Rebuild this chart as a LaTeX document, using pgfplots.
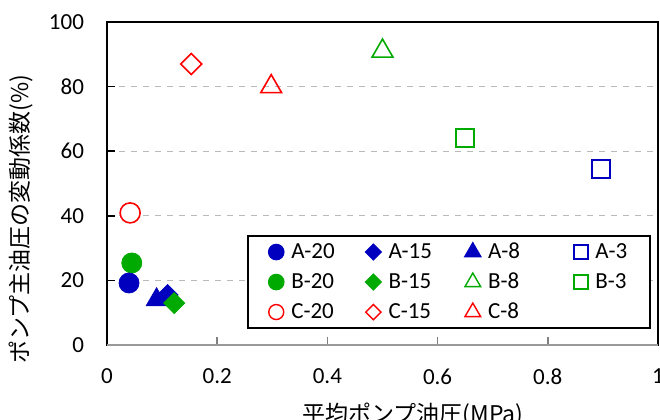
\documentclass[border=0pt]{standalone}
\usepackage{fontspec}
\setmainfont{Carlito}
\newfontfamily\jp{Noto Sans CJK JP}
\usepackage{pgfplots}
\pgfplotsset{compat=1.18}
\definecolor{cblue}{RGB}{0,0,190}
\definecolor{cgreen}{RGB}{0,170,0}
\definecolor{cred}{RGB}{255,0,0}
\begin{document}
\begin{tikzpicture}
\begin{axis}[
  at={(0pt,0pt)}, anchor=origin,
  scale only axis, width=275.5pt, height=161.5pt,
  xmin=0, xmax=1, ymin=0, ymax=100,
  xtick={0,0.2,0.4,0.6,0.8,1}, ytick={0,20,40,60,80,100},
  /pgf/number format/assume math mode=true,
  tick label style={font=\fontsize{11.5}{13.8}\selectfont},
  xticklabel style={yshift=-8.5pt},
  yticklabel style={xshift=-8pt},
  tick align=inside, xtick pos=bottom, ytick pos=left,
  major tick length=4pt,
  xtick style={gray, line width=0.8pt},
  ytick style={black, line width=0.8pt},
  axis line style={black, line width=1.3pt},
  ymajorgrids, grid style={dashed, gray!55, line width=0.6pt},
  xlabel={\jp 平均ポンプ油圧(MPa)},
  ylabel={\jp ポンプ主油圧の変動係数(\%)},
  label style={font=\fontsize{11.5}{13.8}\selectfont},
  xlabel style={at={(axis description cs:0.555,-0.217)}, anchor=center},
  ylabel style={at={(axis description cs:-0.156,0.39)}, anchor=center},
  legend columns=4,
  legend cell align=left,
  legend image code/.code={\draw[#1,/tikz/only marks] plot coordinates {(0pt,0pt)};},
  legend style={at={(0.254,0.05)}, anchor=south west, draw=black, line width=0.8pt,
    font=\fontsize{11.5}{13.8}\selectfont,
    inner xsep=10.5pt, inner ysep=2.5pt,
    nodes={inner sep=1pt, text height=7.5pt, text depth=1.5pt},
    /tikz/row sep=4pt,
    /tikz/column 1/.style={column sep=2.75pt},
    /tikz/column 2/.style={column sep=14.5pt},
    /tikz/column 3/.style={column sep=2.75pt},
    /tikz/column 4/.style={column sep=15.5pt},
    /tikz/column 5/.style={column sep=2.75pt},
    /tikz/column 6/.style={column sep=26pt},
    /tikz/column 7/.style={column sep=2.75pt}},
]
% data
\addplot[forget plot, only marks, mark=*, cgreen, mark size=5pt] coordinates {(0.045,25.4)};
\addplot[forget plot, only marks, mark=*, cblue, mark size=5pt] coordinates {(0.040,19.2)};
\addplot[forget plot, only marks, mark=*, mark options={fill=white, draw=cred, line width=0.8pt}, mark size=5pt] coordinates {(0.042,40.9)};
\addplot[forget plot, only marks, mark=triangle*, cblue, mark size=6pt] coordinates {(0.090,14.0)};
\addplot[forget plot, only marks, mark=square*, mark options={rotate=45}, cblue, mark size=3.7pt] coordinates {(0.110,15.5)};
\addplot[forget plot, only marks, mark=square*, mark options={rotate=45}, cgreen, mark size=3.7pt] coordinates {(0.122,13.0)};
\addplot[forget plot, only marks, mark=square, mark options={rotate=45, line width=0.8pt}, cred, mark size=3.7pt] coordinates {(0.153,87.0)};
\addplot[forget plot, only marks, mark=triangle, mark options={line width=0.8pt}, cred, mark size=6pt] coordinates {(0.298,80.0)};
\addplot[forget plot, only marks, mark=triangle, mark options={line width=0.8pt}, cgreen, mark size=6pt] coordinates {(0.500,91.0)};
\addplot[forget plot, only marks, mark=square, mark options={line width=0.8pt}, cgreen, mark size=4.5pt] coordinates {(0.650,64.0)};
\addplot[forget plot, only marks, mark=square, mark options={line width=0.8pt}, cblue, mark size=4.5pt] coordinates {(0.897,54.5)};
% legend
\addlegendimage{mark=*, cblue, mark size=3.75pt}
\addlegendentry{A-20}
\addlegendimage{mark=square*, mark options={rotate=45}, cblue, mark size=2.7pt}
\addlegendentry{A-15}
\addlegendimage{mark=triangle*, cblue, mark size=4.5pt}
\addlegendentry{A-8}
\addlegendimage{mark=square, mark options={line width=0.7pt}, cblue, mark size=3.5pt}
\addlegendentry{A-3}
\addlegendimage{mark=*, cgreen, mark size=3.75pt}
\addlegendentry{B-20}
\addlegendimage{mark=square*, mark options={rotate=45}, cgreen, mark size=2.7pt}
\addlegendentry{B-15}
\addlegendimage{mark=triangle, mark options={line width=0.7pt}, cgreen, mark size=4.5pt}
\addlegendentry{B-8}
\addlegendimage{mark=square, mark options={line width=0.7pt}, cgreen, mark size=3.5pt}
\addlegendentry{B-3}
\addlegendimage{mark=*, mark options={fill=white, draw=cred, line width=0.7pt}, mark size=3.75pt}
\addlegendentry{C-20}
\addlegendimage{mark=square, mark options={rotate=45, line width=0.7pt}, cred, mark size=2.7pt}
\addlegendentry{C-15}
\addlegendimage{mark=triangle, mark options={line width=0.7pt}, cred, mark size=4.5pt}
\addlegendentry{C-8}
\draw[gray!80, line width=1.4pt] (rel axis cs:0,0) -- (rel axis cs:1,0);
\end{axis}
\pgfresetboundingbox
\path[use as bounding box] (-53.5pt,-37pt) rectangle (276.5pt,172.5pt);
\end{tikzpicture}
\end{document}
